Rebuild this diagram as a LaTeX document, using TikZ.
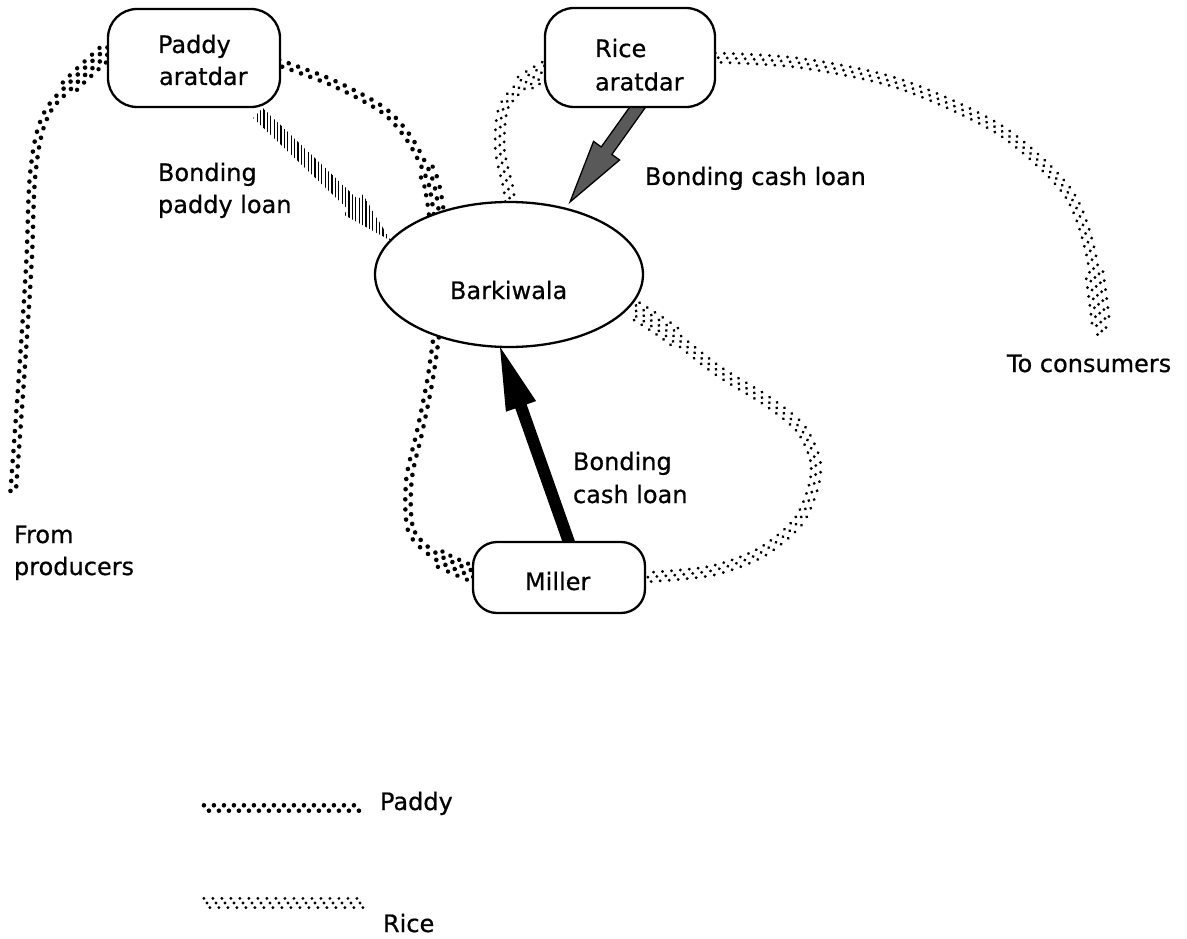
\documentclass[tikz,border=0pt]{standalone}
\usepackage{fontspec}
\setmainfont{DejaVu Sans}
\newfontfamily\lblfont{DejaVu Sans}[FakeBold=0.6]
\usetikzlibrary{calc,shapes.geometric,decorations.markings}
\pgfdeclarelayer{paper}
\pgfdeclarelayer{flows}
\pgfsetlayers{paper,flows,main}

% outline of a broad arrow: tail, tip, base of the head, shaft half width, head half width
\newcommand\arrowoutline[5]{($(#1)!#4!90:(#2)$) -- ($(#3)!#4!90:(#2)$) -- ($(#3)!#5!90:(#2)$) -- (#2) -- ($(#3)!#5!-90:(#2)$) -- ($(#3)!#4!-90:(#2)$) -- ($(#1)!#4!-90:(#2)$) -- cycle}

\tikzset{
  every node/.style={inner sep=0pt, outer sep=0pt},
  lbl/.style={font=\lblfont\fontsize{24}{32}\selectfont, anchor=base west},
  agent/.style={draw, fill=white, line width=2.3pt, rounded corners=29pt,
    minimum width=172pt, minimum height=98pt},
  paddyflow/.style={postaction={decorate, decoration={markings,
    mark=between positions 0.006 and 0.994 step 10pt with {
      \fill (0pt,2.7pt) circle (2.3pt);
      \fill (5pt,-2.7pt) circle (2.3pt);}}}},
  riceflow/.style={postaction={decorate, decoration={markings,
    mark=between positions 0.006 and 0.994 step 9pt with {
      \fill (0pt,4.6pt) circle (1.6pt);
      \fill (3pt,0pt) circle (1.6pt);
      \fill (6pt,-4.6pt) circle (1.6pt);}}}},
  paddyhead/.style={postaction={decorate, decoration={markings,
    mark=between positions #1 and 0.985 step 10pt with {
      \fill (2pt,7.6pt) circle (2.2pt);
      \fill (7pt,-7.6pt) circle (2.2pt);}}}},
  ricehead/.style={postaction={decorate, decoration={markings,
    mark=between positions #1 and 0.98 step 9pt with {
      \fill (1.5pt,8.8pt) circle (1.6pt);
      \fill (6pt,-8.8pt) circle (1.6pt);}}}},
}

\begin{document}
\begin{tikzpicture}[x=1pt, y=-1pt]
\useasboundingbox (0,0) rectangle (1187,939);
\begin{pgfonlayer}{paper}
  \fill[white] (0,0) rectangle (1187,939);
\end{pgfonlayer}

% traders
\node[agent] (pa) at (194,58) {};
\node[agent, minimum width=170pt, minimum height=99pt] (ra) at (630,57.5) {};
\node[agent, minimum height=71pt, rounded corners=24pt] (mi) at (559,577.5) {};
\node[draw, fill=white, ellipse, line width=2.3pt, minimum width=268pt,
      minimum height=145pt] (bk) at (509,274.5) {};

\node[lbl] (pa1) at (158,53) {Paddy};
\node[lbl] (pa2) at (159,85) {aratdar};
\node[lbl] (ra1) at (595,57) {Rice};
\node[lbl] (ra2) at (595,90.5) {aratdar};
\node[lbl] (mi1) at (525,590) {Miller};
\node[lbl] (bk1) at (450,299) {Barkiwala};

% labels
\node[lbl] (l1a) at (158,181) {Bonding};
\node[lbl] (l1b) at (158,213) {paddy loan};
\node[lbl] (l2) at (645,185) {Bonding cash loan};
\node[lbl] (l3a) at (573,470) {Bonding};
\node[lbl] (l3b) at (573,503) {cash loan};
\node[lbl] (to) at (1007,372) {To consumers};
\node[lbl] (fr1) at (14,543) {From};
\node[lbl] (fr2) at (14,575) {producers};

% legend
\node[lbl] (legp) at (380,810) {Paddy};
\node[lbl] (legr) at (383,932) {Rice};

\begin{pgfonlayer}{flows}
  % paddy flows
  \coordinate (prod) at (13,494);
  \coordinate (p1e) at ($(pa.west)+(4,-11)$);
  \path[paddyflow, paddyhead=0.87] plot[smooth, tension=0.6] coordinates
    {(prod) (22,370) (29,262) (33,172) (45,117) (72,84) (p1e)};
  \coordinate (p2s) at ($(pa.east)+(-3,4)$);
  \path[paddyflow, paddyhead=0.8] plot[smooth] coordinates
    {(p2s) (333,83) (383,110) (410,140) (430,180) (bk.140)};
  \coordinate (p3e) at ($(mi.west)+(4,-2)$);
  \path[paddyflow, paddyhead=0.84] plot[smooth] coordinates
    {(bk.220) (430,380) (420,430) (409,480) (411,530) (437,557) (p3e)};

  % rice flows
  \coordinate (r1s) at ($(bk.north)+(1,0)$);
  \coordinate (r1e) at ($(ra.west)+(4,11)$);
  \path[riceflow, ricehead=0.8] plot[smooth] coordinates
    {(r1s) (508,187) (500,150) (503,110) (521,86) (r1e)};
  \coordinate (r2s) at ($(ra.east)+(-3,0)$);
  \coordinate (cons) at (1102,333);
  \path[riceflow, ricehead=0.885] plot[smooth] coordinates
    {(r2s) (800,63) (900,84) (1000,130) (1066,190) (1090,250) (cons)};
  \coordinate (r3s) at ($(mi.east)+(-3,0)$);
  \path[riceflow, ricehead=0.88] plot[smooth] coordinates
    {(r3s) (710,571) (760,553) (797,523) (813,488) (815,460) (800,428)
     (767,401) (717,370) (667,331) (bk.345)};

  % legend samples
  \coordinate (lpa) at (203,808);
  \coordinate (lpb) at (360,808);
  \path[paddyflow] (lpa) -- (lpb);
  \coordinate (lra) at (203,903);
  \coordinate (lrb) at (360,903);
  \path[riceflow] (lra) -- (lrb);

  % bonding paddy loan (hatched)
  \coordinate (ht) at ($(pa.south east)+(-22,6)$);
  \coordinate (hp) at (bk.164);
  \coordinate (hb) at ($(hp)!52pt!(ht)$);
  \begin{scope}
    \clip \arrowoutline{ht}{hp}{hb}{7pt}{14pt};
    \foreach \x in {230,233.4,...,420}
      \draw[line width=1.3pt] (\x,80) -- (\x,260);
  \end{scope}

  % bonding cash loan from the rice aratdar
  \coordinate (rt) at ($(ra.south)+(12,-6)$);
  \coordinate (rp) at ($(bk.north)+(61,0)$);
  \coordinate (rb) at ($(rp)!63pt!(rt)$);
  \filldraw[fill=black!65, draw=black, line width=1.3pt]
    \arrowoutline{rt}{rp}{rb}{6.5pt}{16pt};

  % bonding cash loan from the miller
  \coordinate (mt) at ($(mi.north)+(12,6)$);
  \coordinate (mp) at ($(bk.south)+(-9,0)$);
  \coordinate (mb) at ($(mp)!63pt!(mt)$);
  \fill \arrowoutline{mt}{mp}{mb}{6pt}{16pt};
\end{pgfonlayer}
\end{tikzpicture}
\end{document}
